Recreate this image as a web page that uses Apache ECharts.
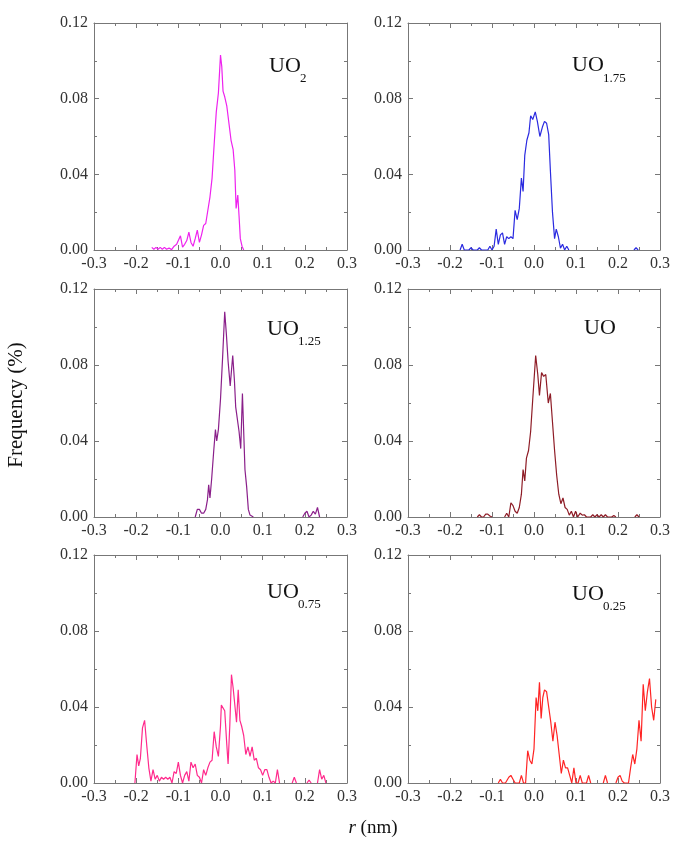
<!DOCTYPE html>
<html>
<head>
<meta charset="utf-8">
<script src="https://cdn.jsdelivr.net/npm/echarts@6/dist/echarts.min.js"></script>
<style>
  html, body { margin: 0; padding: 0; background: #fff; }
  #chart { width: 673px; height: 841px; }
</style>
</head>
<body>
<div id="chart"></div>
<script>
// axis ticks
const rTicks = [-0.3, -0.2, -0.1, 0.0, 0.1, 0.2, 0.3];
const fTicks = [0.00, 0.04, 0.08, 0.12];

// panel labels: main text + subscript
const labelMain = ['UO', 'UO', 'UO', 'UO', 'UO', 'UO'];
const labelSub = ['2', '1.75', '1.25', '', '0.75', '0.25'];

// [r (nm), frequency]; null breaks the line
const uo2 = [
  [-0.163,0.0014],[-0.158,0.0004],[-0.153,0.0014],[-0.148,0.0004],[-0.143,0.0014],[-0.138,0.0004],
  [-0.133,0.0014],[-0.128,0.0004],[-0.122,0.001],[-0.116,0.0002],[-0.11,0.002],[-0.104,0.003],
  [-0.1,0.004],[-0.095,0.0075],[-0.09,0.0015],[-0.085,0.003],[-0.08,0.005],[-0.075,0.0095],
  [-0.07,0.004],[-0.065,0.002],[-0.06,0.006],[-0.055,0.0105],[-0.05,0.004],[-0.045,0.008],
  [-0.04,0.013],[-0.035,0.014],[-0.03,0.021],[-0.025,0.028],[-0.02,0.038],[-0.015,0.056],
  [-0.01,0.073],[-0.005,0.083],[0,0.103],[0.003,0.097],[0.006,0.084],[0.01,0.081],[0.015,0.076],
  [0.02,0.067],[0.025,0.058],[0.03,0.053],[0.034,0.042],[0.037,0.022],[0.041,0.029],[0.044,0.018],
  [0.047,0.006],[0.051,0.002],[0.055,0]
];
const uo175 = [
  [-0.176,0],[-0.171,0.003],[-0.166,0],[-0.155,0],[-0.15,0.0012],[-0.145,0],[-0.135,0],[-0.13,0.0012],
  [-0.125,0],[-0.11,0],[-0.105,0.002],[-0.1,0],[-0.095,0.002],[-0.09,0.011],[-0.085,0.003],[-0.08,0.008],
  [-0.075,0.009],[-0.07,0.003],[-0.065,0.007],[-0.06,0.006],[-0.055,0.007],[-0.05,0.006],[-0.045,0.021],
  [-0.04,0.016],[-0.035,0.022],[-0.03,0.038],[-0.026,0.031],[-0.022,0.05],[-0.017,0.058],[-0.012,0.062],
  [-0.008,0.071],[-0.003,0.069],[0.003,0.073],[0.008,0.068],[0.014,0.06],[0.02,0.065],[0.025,0.068],
  [0.03,0.067],[0.035,0.061],[0.039,0.042],[0.044,0.02],[0.049,0.006],[0.053,0.011],[0.058,0.007],
  [0.063,0.001],[0.068,0.003],[0.073,0],[0.078,0.002],[0.083,0],[0.09,null],
  [0.238,0],[0.243,0.0012],[0.248,0]
];
const uo125 = [
  [-0.06,0],[-0.055,0.004],[-0.05,0.004],[-0.045,0.002],[-0.04,0.002],[-0.035,0.004],[-0.031,0.009],
  [-0.028,0.017],[-0.025,0.01],[-0.021,0.02],[-0.016,0.035],[-0.012,0.046],[-0.009,0.04],[-0.005,0.046],
  [0,0.062],[0.005,0.084],[0.01,0.108],[0.014,0.096],[0.018,0.082],[0.023,0.069],[0.029,0.085],
  [0.033,0.072],[0.036,0.058],[0.04,0.058],[0.044,0.045],[0.048,0.036],[0.052,0.065],[0.055,0.045],
  [0.058,0.025],[0.062,0.016],[0.066,0.004],[0.07,0.001],[0.074,0.002],[0.078,0],[0.09,null],
  [0.195,0],[0.2,0.002],[0.205,0.003],[0.21,0],[0.215,0.001],[0.22,0.003],[0.225,0.0015],[0.23,0.005],[0.235,0]
];
const uo1 = [
  [-0.135,0],[-0.13,0.0012],[-0.125,0],[-0.12,0],[-0.115,0.0015],[-0.11,0.0015],[-0.105,0.0005],[-0.1,0],
  [-0.09,null],[-0.07,0],[-0.065,0.002],[-0.06,0],[-0.055,0.0075],[-0.05,0.006],[-0.045,0.003],[-0.04,0.002],
  [-0.035,0.005],[-0.03,0.012],[-0.026,0.025],[-0.022,0.019],[-0.018,0.031],[-0.013,0.035],[-0.008,0.045],
  [-0.003,0.062],[0.004,0.085],[0.009,0.075],[0.013,0.064],[0.018,0.076],[0.023,0.074],[0.028,0.075],
  [0.034,0.06],[0.039,0.065],[0.044,0.05],[0.049,0.035],[0.054,0.022],[0.059,0.012],[0.064,0.007],
  [0.069,0.01],[0.074,0.005],[0.079,0.004],[0.084,0.001],[0.089,0.003],[0.094,0],[0.099,0.003],[0.104,0],
  [0.11,0.002],[0.115,0.001],[0.12,0.0012],[0.125,0],[0.135,0],[0.14,0.0012],[0.145,0],[0.15,0.0012],
  [0.155,0],[0.16,0.0012],[0.165,0],[0.17,0.0012],[0.175,0],[0.185,0],[0.19,0.0008],[0.195,0],[0.2,null],
  [0.24,0],[0.245,0.0012],[0.25,0]
];
const uo075 = [
  [-0.203,0],[-0.198,0.015],[-0.194,0.009],[-0.19,0.013],[-0.185,0.029],[-0.18,0.033],[-0.175,0.02],
  [-0.17,0.008],[-0.165,0.001],[-0.16,0.007],[-0.155,0.002],[-0.15,0.004],[-0.145,0.001],[-0.14,0.003],
  [-0.135,0.002],[-0.13,0.003],[-0.125,0.002],[-0.12,0.003],[-0.115,0],[-0.11,0.006],[-0.105,0.005],
  [-0.1,0.011],[-0.095,0.004],[-0.09,0],[-0.085,0.004],[-0.08,0.006],[-0.075,0.001],[-0.07,0.011],
  [-0.065,0.008],[-0.06,0.01],[-0.055,0.004],[-0.05,0.003],[-0.045,0],[-0.04,0.007],[-0.035,0.004],
  [-0.03,0.008],[-0.025,0.011],[-0.02,0.012],[-0.015,0.027],[-0.01,0.019],[-0.005,0.014],[0,0.03],
  [0.002,0.041],[0.006,0.04],[0.01,0.038],[0.015,0.02],[0.018,0.01],[0.022,0.03],[0.026,0.057],
  [0.03,0.05],[0.034,0.051],[0.038,0.032],[0.042,0.049],[0.046,0.033],[0.05,0.03],[0.055,0.025],
  [0.06,0.015],[0.065,0.019],[0.07,0.014],[0.075,0.019],[0.08,0.012],[0.085,0.013],[0.09,0.008],
  [0.095,0.007],[0.1,0.004],[0.105,0.007],[0.11,0.007],[0.115,0.003],[0.12,0],[0.125,0.001],[0.13,0],
  [0.135,0.007],[0.14,0],[0.15,null],[0.17,0],[0.175,0.003],[0.18,0],[0.19,null],[0.205,0],[0.21,0.0015],
  [0.215,0],[0.225,null],[0.23,0],[0.235,0.007],[0.24,0.002],[0.245,0.004],[0.25,0]
];
const uo025 = [
  [-0.085,0],[-0.08,0.002],[-0.075,0],[-0.068,0],[-0.06,0.003],[-0.055,0.004],[-0.05,0.002],[-0.045,0],
  [-0.035,0],[-0.03,0.004],[-0.025,0],[-0.02,0],[-0.015,0.017],[-0.01,0.012],[-0.005,0.01],[0,0.018],
  [0.005,0.045],[0.009,0.038],[0.013,0.053],[0.017,0.034],[0.021,0.045],[0.025,0.049],[0.03,0.048],
  [0.035,0.04],[0.04,0.032],[0.045,0.022],[0.05,0.032],[0.055,0.025],[0.06,0.015],[0.065,0.005],
  [0.07,0.012],[0.075,0.008],[0.08,0.008],[0.085,0.004],[0.09,0],[0.095,0.008],[0.1,0],[0.105,0],
  [0.11,0.004],[0.115,0],[0.125,0],[0.13,0.004],[0.135,0],[0.15,null],[0.165,0],[0.17,0.004],[0.175,0],
  [0.185,null],[0.195,0],[0.2,0.003],[0.205,0.004],[0.21,0.001],[0.215,0],[0.225,0],[0.23,0.008],
  [0.235,0.015],[0.24,0.01],[0.245,0.018],[0.25,0.033],[0.255,0.022],[0.26,0.052],[0.265,0.038],
  [0.27,0.048],[0.275,0.055],[0.28,0.04],[0.285,0.033],[0.29,0.044]
];

const seriesData = [uo2, uo175, uo125, uo1, uo075, uo025];
const colors = ['#ee22ee', '#2a2ae0', '#8a1f8a', '#8e1c26', '#ff2a8c', '#ff2424'];

const font = 'Liberation Serif, Times New Roman, serif';
const axisGray = '#777';

const grids = [
  { left: 94, top: 23, width: 253, height: 227 },
  { left: 408, top: 23, width: 253, height: 227 },
  { left: 94, top: 289, width: 253, height: 228 },
  { left: 408, top: 289, width: 253, height: 228 },
  { left: 94, top: 555, width: 253, height: 228 },
  { left: 408, top: 555, width: 253, height: 228 }
];

const xAxes = [];
const yAxes = [];
const series = [];
const graphics = [];

const fmtX = v => (Math.abs(v) < 1e-9 ? 0 : v).toFixed(1);
const fmtY = v => (Math.abs(v) < 1e-9 ? 0 : v).toFixed(2);

grids.forEach((g, i) => {
  const common = {
    gridIndex: i,
    type: 'value',
    axisLine: { show: true, onZero: false, lineStyle: { color: axisGray, width: 1 } },
    axisTick: { show: true, inside: true, length: 5, lineStyle: { color: axisGray } },
    minorTick: { show: true, splitNumber: 2, length: 3, lineStyle: { color: axisGray } },
    splitLine: { show: false }
  };
  const xBase = Object.assign({}, common, {
    min: rTicks[0], max: rTicks[rTicks.length - 1], interval: 0.1
  });
  const yBase = Object.assign({}, common, {
    min: fTicks[0], max: fTicks[fTicks.length - 1], interval: 0.04
  });
  xAxes.push(Object.assign({}, xBase, {
    position: 'bottom',
    axisLabel: { fontFamily: font, fontSize: 16, color: '#333', margin: 6, formatter: fmtX }
  }));
  xAxes.push(Object.assign({}, xBase, { position: 'top', axisLabel: { show: false } }));
  yAxes.push(Object.assign({}, yBase, {
    position: 'left',
    axisLabel: { fontFamily: font, fontSize: 16, color: '#333', margin: 6, formatter: fmtY }
  }));
  yAxes.push(Object.assign({}, yBase, { position: 'right', axisLabel: { show: false } }));

  series.push({
    type: 'line',
    xAxisIndex: 2 * i,
    yAxisIndex: 2 * i,
    data: seriesData[i],
    showSymbol: false,
    connectNulls: false,
    lineStyle: { color: colors[i], width: 1.2 },
    itemStyle: { color: colors[i] },
    animation: false
  });
});

// panel label positions
const labelPos = [
  [269, 67, 79], [572, 66, 79],
  [267, 330, 342], [584, 329, 342],
  [267, 593, 605], [572, 595, 607]
];
labelPos.forEach((p, i) => {
  graphics.push({
    type: 'text', left: p[0], top: p[1] - 12,
    style: { text: labelMain[i], font: '22px ' + font, fill: '#111' }
  });
  if (labelSub[i]) {
    graphics.push({
      type: 'text', left: p[0] + 31, top: p[2] - 7,
      style: { text: labelSub[i], font: '13px ' + font, fill: '#111' }
    });
  }
});

graphics.push({
  type: 'text',
  x: 16, y: 405,
  rotation: Math.PI / 2,
  style: { text: 'Frequency (%)', font: '21px ' + font, fill: '#111', align: 'center', verticalAlign: 'middle' }
});
graphics.push({
  type: 'text',
  x: 373, y: 828,
  style: {
    text: '{i|r} (nm)',
    font: '19px ' + font,
    fill: '#111',
    align: 'center',
    verticalAlign: 'middle',
    rich: { i: { fontStyle: 'italic', fontFamily: font, fontSize: 19, fill: '#111' } }
  }
});

const chart = echarts.init(document.getElementById('chart'));
chart.setOption({
  backgroundColor: '#fff',
  animation: false,
  grid: grids,
  xAxis: xAxes,
  yAxis: yAxes,
  series: series,
  graphic: graphics
});
</script>
</body>
</html>
